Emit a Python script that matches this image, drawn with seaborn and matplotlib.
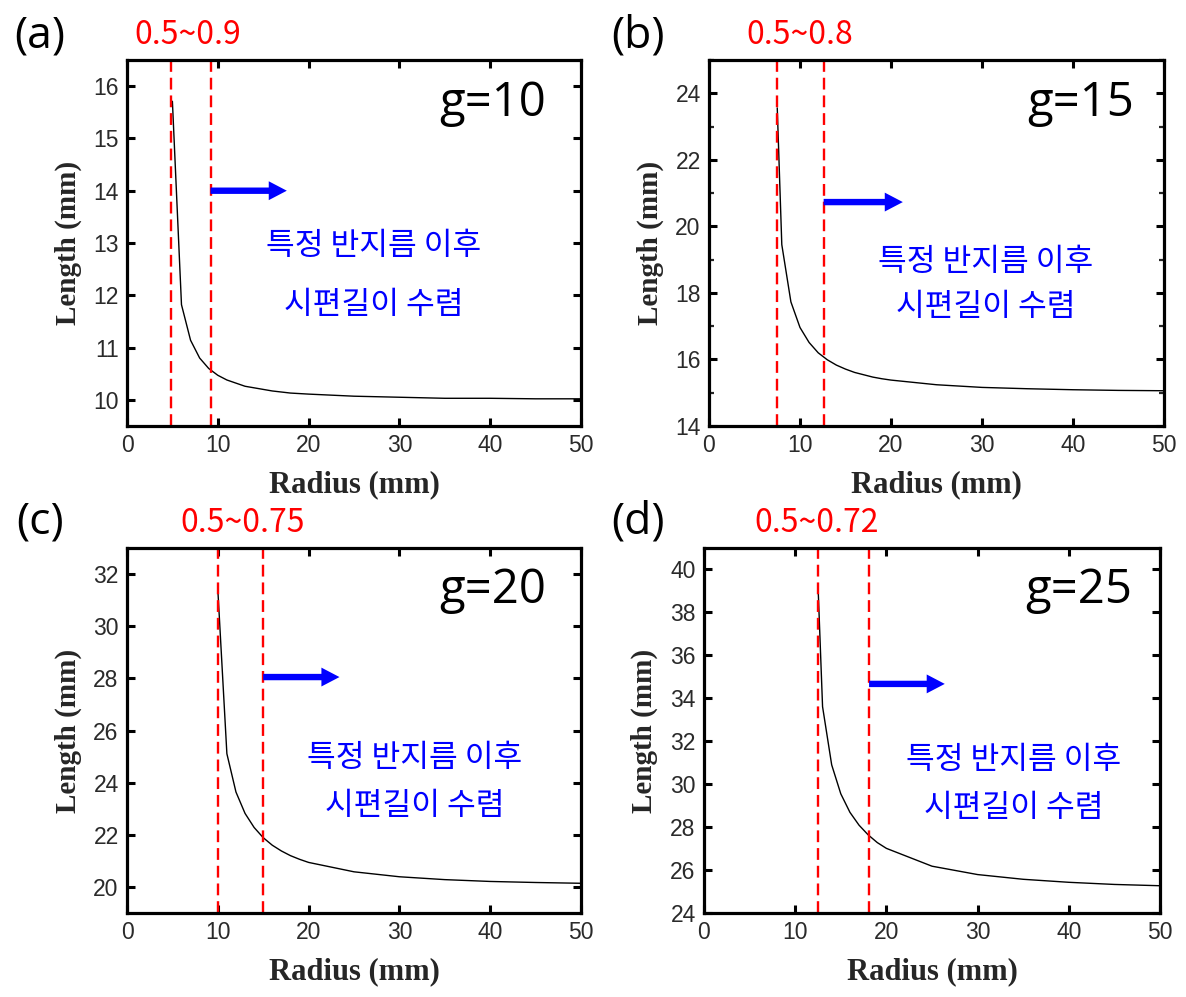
import matplotlib
matplotlib.use("Agg")
import matplotlib.pyplot as plt
import matplotlib.transforms as mtransforms
from matplotlib.ticker import MultipleLocator
import seaborn as sns
import pandas as pd

# ---------------- data ----------------
radius_g10 = [5, 6, 7, 8, 9, 10, 11, 12, 13, 14, 15, 16, 17, 18, 19, 20, 25, 30, 35, 40, 45, 50]
length_g10 = [15.71, 11.82, 11.14, 10.80, 10.60, 10.47, 10.38, 10.32, 10.26, 10.23, 10.20,
              10.17, 10.15, 10.13, 10.12, 10.11, 10.07, 10.05, 10.03, 10.03, 10.02, 10.02]

radius_g15 = [7.5, 8, 9, 10, 11, 12, 13, 14, 15, 16, 17, 18, 19, 20, 25, 30, 35, 40, 45, 50]
length_g15 = [23.56, 19.45, 17.73, 16.96, 16.51, 16.20, 15.99, 15.83, 15.71, 15.61, 15.54,
              15.47, 15.42, 15.38, 15.24, 15.16, 15.12, 15.09, 15.07, 15.06]

radius_g20 = [10, 11, 12, 13, 14, 15, 16, 17, 18, 19, 20, 25, 30, 35, 40, 45, 50]
length_g20 = [31.42, 25.11, 23.64, 22.82, 22.28, 21.89, 21.60, 21.38, 21.20, 21.06, 20.94,
              20.58, 20.39, 20.28, 20.21, 20.17, 20.14]

radius_g25 = [12.5, 13, 14, 15, 16, 17, 18, 19, 20, 25, 30, 35, 40, 45, 50]
length_g25 = [39.27, 33.61, 30.90, 29.55, 28.69, 28.09, 27.64, 27.28, 27.01, 26.18, 25.79,
              25.57, 25.43, 25.33, 25.27]

panel_letters = ["(a)", "(b)", "(c)", "(d)"]
gap_labels = ["g=10", "g=15", "g=20", "g=25"]
range_labels = ["0.5~0.9", "0.5~0.8", "0.5~0.75", "0.5~0.72"]
range_bounds = [(4.85, 9.2), (7.5, 12.6), (10.0, 15.0), (12.5, 18.1)]
note_line1 = "특정 반지름 이후"
note_line2 = "시편길이 수렴"
x_label = "Radius (mm)"
y_label = "Length (mm)"

# ---------------- layout / style ----------------
sns.set_theme(style="ticks")
plt.rcParams["font.family"] = ["Noto Sans CJK KR", "DejaVu Sans"]

W, H = 1186, 997
fig = plt.figure(figsize=(W / 100, H / 100), dpi=100)

def frac_rect(l, r, t, b):
    return [l / W, 1 - b / H, (r - l) / W, (b - t) / H]

panels = [
    dict(x=radius_g10, y=length_g10, rect=frac_rect(127, 581, 60, 426), ylim=(9.5, 16.5), ystep=1,
         yminor=None, arrow_y=14.0, arrow_end=17.6, note_xy=(27.2, 12.94, 11.81), g_xy=(46.2, 15.68),
         letter_xy=(40, 36), range_x=6.7),
    dict(x=radius_g15, y=length_g15, rect=frac_rect(709, 1164, 60, 426), ylim=(14, 25), ystep=2,
         yminor=1, arrow_y=20.73, arrow_end=21.3, note_xy=(30.4, 18.93, 17.58), g_xy=(46.7, 23.7),
         letter_xy=(638, 36), range_x=10.0),
    dict(x=radius_g20, y=length_g20, rect=frac_rect(127, 581, 548, 913), ylim=(19, 33), ystep=2,
         yminor=None, arrow_y=28.05, arrow_end=23.4, note_xy=(31.7, 24.94, 23.1), g_xy=(46.2, 31.39),
         letter_xy=(40, 522), range_x=12.7),
    dict(x=radius_g25, y=length_g25, rect=frac_rect(704, 1160, 548, 913), ylim=(24, 41), ystep=2,
         yminor=None, arrow_y=34.67, arrow_end=26.4, note_xy=(34.0, 31.13, 28.9), g_xy=(47.0, 39.04),
         letter_xy=(638, 522), range_x=12.3),
]

for i, p in enumerate(panels):
    ax = fig.add_axes(p["rect"])
    df = pd.DataFrame({"Radius": p["x"], "Length": p["y"]})
    sns.lineplot(data=df, x="Radius", y="Length", ax=ax, color="black", lw=1.0,
                 estimator=None, sort=False)
    ax.set_xlim(0, 50)
    ax.set_ylim(*p["ylim"])
    ax.xaxis.set_major_locator(MultipleLocator(10))
    ax.yaxis.set_major_locator(MultipleLocator(p["ystep"]))
    if p["yminor"]:
        ax.yaxis.set_minor_locator(MultipleLocator(p["yminor"]))
    ax.tick_params(which="major", direction="in", top=True, right=True, width=2.2, length=6,
                   labelsize=16.5, pad=6, colors="black", labelcolor="#2a2a2a")
    ax.tick_params(which="minor", direction="in", top=True, right=True, width=1.6, length=3.5)
    for lab in ax.get_xticklabels() + ax.get_yticklabels():
        lab.set_fontfamily("Liberation Sans")
    for s in ax.spines.values():
        s.set_linewidth(2.3)
        s.set_color("black")

    ax.set_xlabel(x_label, fontfamily="Liberation Serif", fontweight="bold", fontsize=22)
    ax.set_ylabel(y_label, fontfamily="Liberation Serif", fontweight="bold", fontsize=21)
    ax.xaxis.label.set_va("center")
    ax.yaxis.label.set_va("center")
    ax.xaxis.set_label_coords(0.5, -0.161)
    ax.yaxis.set_label_coords(-0.13, 0.5)

    lo, hi = range_bounds[i]
    for xv in (lo, hi):
        ax.axvline(xv, color="red", lw=1.7, ls=(0, (5, 2.5)))
    trans = mtransforms.blended_transform_factory(ax.transData, ax.transAxes)
    ax.text(p["range_x"], 1.068, range_labels[i], transform=trans, ha="center", va="center",
            color="red", fontsize=23, clip_on=False)

    ax.annotate("", xy=(p["arrow_end"], p["arrow_y"]), xytext=(hi, p["arrow_y"]),
                arrowprops=dict(arrowstyle="simple,head_length=0.65,head_width=0.68,tail_width=0.23",
                                color="blue", mutation_scale=20, shrinkA=0, shrinkB=0, lw=0))

    nx, ny1, ny2 = p["note_xy"]
    ax.text(nx, ny1, note_line1, ha="center", va="center", color="blue", fontsize=22.5)
    ax.text(nx, ny2, note_line2, ha="center", va="center", color="blue", fontsize=22.5)

    gx, gy = p["g_xy"]
    ax.text(gx, gy, gap_labels[i], ha="right", va="center", color="black", fontsize=34,
            fontfamily=["Open Sans", "DejaVu Sans"])

    lx, ly = p["letter_xy"]
    fig.text(lx / W, 1 - ly / H, panel_letters[i], ha="center", va="center", fontsize=32,
             color="black", fontfamily=["Open Sans", "DejaVu Sans"])

fig.savefig("out.png", dpi=100)
